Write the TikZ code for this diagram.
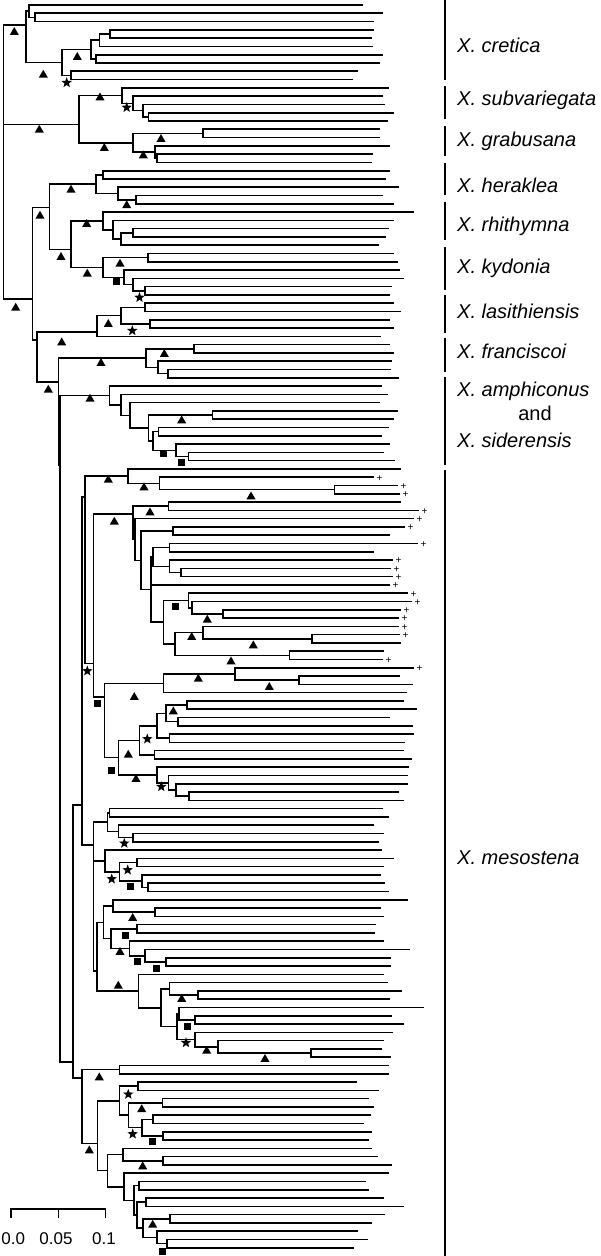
\documentclass[tikz,border=0pt]{standalone}
\usepackage{fontspec}
\setmainfont{Liberation Sans}
\usetikzlibrary{shapes.geometric, calc}

\tikzset{
  branch/.style={line width=1.6pt, line cap=rect},
  trimark/.style={regular polygon, regular polygon sides=3, fill, inner sep=0pt, minimum size=10.5pt},
  starmark/.style={star, star points=5, star point ratio=2.4, fill, inner sep=0pt, minimum size=11pt},
  sqmark/.style={rectangle, fill, inner sep=0pt, minimum size=7pt},
  plusmark/.style={inner sep=0pt, font=\fontsize{10}{10}\selectfont},
  taxon/.style={anchor=west, inner sep=0pt, font=\fontsize{20}{20}\selectfont\itshape},
  groupbar/.style={line width=2pt},
  scalelbl/.style={inner sep=0pt, font=\fontsize{17}{17}\selectfont}
}

\newcommand\linkup[2]{%
  \draw[branch] (#1 |- \cfirst) -- (#1 |- \clast);
  \foreach \kid in {#2} \draw[branch] (#1 |- \kid) -- (\kid);}
\newcommand\cl[3]{%
  \foreach \kid [count=\kidno] in {#3} {\ifnum\kidno=1 \xdef\cfirst{\kid}\fi \xdef\clast{\kid}}%
  \coordinate (tmp) at ($(\cfirst)!.5!(\clast)$);
  \coordinate (#1) at (#2,0 |- tmp);
  \linkup{#1}{#3}}
\newcommand\clat[4]{%
  \foreach \kid [count=\kidno] in {#4} {\ifnum\kidno=1 \xdef\cfirst{\kid}\fi \xdef\clast{\kid}}%
  \coordinate (#1) at (#2,#3);
  \linkup{#1}{#4}}

\begin{document}
\begin{tikzpicture}[x=1pt, y=-1pt]
  \useasboundingbox (0,0) rectangle (600,1256);
  \foreach \e [count=\i from 0] in {
    362,382,373,373,371,372,382,379,357,352,
    388,382,384,393,387,379,379,389,372,371,
    389,385,398,382,393,413,393,388,385,378,
    393,397,399,403,391,389,393,400,389,393,
    380,389,393,391,390,398,381,387,379,397,
    393,388,381,389,383,394,400,373,397,399,
    400,418,413,404,389,417,373,392,390,392,
    389,407,411,400,398,398,399,400,383,382,
    413,399,412,406,403,416,389,412,413,404,
    403,411,408,407,407,398,403,382,388,373,
    383,378,381,393,383,380,384,388,407,380,
    383,375,374,383,409,390,390,383,387,401,
    389,423,391,403,392,383,381,390,388,388,
    356,378,368,373,370,363,371,368,371,377,
    391,388,365,368,383,403,384,371,357,367,353}
    \coordinate (l\i) at (\e, {5+8.285*\i});

  \cl{a01}{35}{l1,l2}
  \cl{a0}{29}{l0,a01}
  \cl{f34}{110}{l3,l4}
  \cl{e5}{99.3}{f34,l5}
  \cl{g67}{95.7}{l6,l7}
  \cl{c3}{90.7}{e5,g67}
  \cl{d89}{71}{l8,l9}
  \cl{b3}{62}{c3,d89}
  \clat{cret}{25.7}{25}{a0,b3}

  \cl{j13}{148.3}{l13,l14}
  \cl{i12}{142.7}{l12,j13}
  \cl{h11}{133}{l11,i12}
  \cl{h10}{122}{l10,h11}
  \cl{k15}{203}{l15,l16}
  \cl{m18}{157}{l18,l19}
  \cl{m17}{155}{l17,m18}
  \cl{n15}{133}{k15,m17}
  \clat{p10}{79}{124.3}{h10,n15}

  \cl{q1}{103}{l20,l21}
  \cl{q3}{136}{l23,l24}
  \cl{q2}{118}{l22,q3}
  \cl{q0}{95.7}{q1,q2}
  \cl{s3}{133}{l27,l28}
  \cl{s2}{121}{s3,l29}
  \cl{s1}{113}{l26,s2}
  \cl{s0}{103}{l25,s1}
  \cl{u1}{148}{l30,l31}
  \cl{u4}{145}{l34,l35}
  \cl{u3}{133}{l33,u4}
  \cl{u2}{124}{l32,u3}
  \cl{u0}{103}{u1,u2}
  \clat{t0}{71}{249.3}{s0,u0}
  \clat{r0}{49.3}{207.3}{q0,t0}

  \cl{v1}{145}{l36,l37}
  \cl{v2}{150}{l38,l39}
  \cl{v0}{120.7}{v1,v2}
  \clat{w0}{96.7}{332}{v0,l40}
  \cl{z1}{194}{l41,l42}
  \cl{z3}{168}{l44,l45}
  \cl{z2}{158}{l43,z3}
  \cl{zf}{146}{z1,z2}
  \cl{am5}{188.3}{l54,l55}
  \cl{am4}{175.7}{l53,am5}
  \cl{am3}{158.3}{l51,l52}
  \cl{am2}{152.7}{am3,am4}
  \cl{am6}{212.3}{l49,l50}
  \cl{am1}{148.3}{am6,am2}
  \cl{am0}{130}{l48,am1}
  \cl{amb}{120.7}{l47,am0}
  \cl{am}{109.3}{l46,amb}

  \cl{me3}{334.3}{l58,l59}
  \cl{me2}{159.3}{l57,me3}
  \cl{me1}{127.7}{l56,me2}
  \cl{mf1}{168.3}{l60,l61}
  \cl{mf3}{172.7}{l63,l64}
  \cl{mf5}{169.3}{l65,l66}
  \cl{mf7}{181}{l68,l69}
  \cl{mf6}{169.3}{l67,mf7}
  \cl{mf4}{152.7}{mf5,mf6}
  \cl{mg3}{222.7}{l73,l74}
  \cl{mg2}{191.7}{l72,mg3}
  \cl{mg1}{188.3}{l71,mg2}
  \cl{mh3}{311.7}{l76,l77}
  \cl{mh2}{202.7}{l75,mh3}
  \cl{mh4}{289.3}{l78,l79}
  \cl{mh1}{175}{mh2,mh4}
  \cl{mgh}{163.3}{mg1,mh1}
  \cl{mfy}{150.7}{mf4,l70,mgh}
  \cl{mfx}{140.7}{mf3,mfy}
  \cl{mf2}{135}{l62,mfx}
  \clat{mf}{132.7}{514}{mf1,mf2}
  \cl{mi3}{299}{l81,l82}
  \cl{mi2}{235}{l80,mi3}
  \cl{mi1}{163.3}{mi2,l83}
  \cl{mj5}{186.7}{l84,l85}
  \cl{mj6}{177.7}{l86,l87}
  \cl{mj4}{166}{mj5,mj6}
  \cl{mj7}{169.3}{l88,l89}
  \cl{mj3}{156.7}{mj4,mj7}
  \cl{mj8}{154.3}{l90,l91}
  \cl{mj2}{139.3}{mj3,mj8}
  \cl{mk4}{189}{l95,l96}
  \cl{mk3}{175.7}{l94,mk4}
  \cl{mk2}{168.3}{l93,mk3}
  \cl{mk1}{156.7}{l92,mk2}
  \cl{mj1}{118.3}{mj2,mk1}
  \clat{mD}{104.3}{696.7}{mi1,mj1}
  \clat{mC}{93.3}{663.3}{mf,mD}
  \clat{mA}{85}{496.7}{me1,mC}

  \cl{mm1}{109.3}{l97,l98}
  \cl{mm3}{132.7}{l100,l101}
  \cl{mm2}{118.3}{l99,mm3}
  \cl{mm}{107.3}{mm1,mm2}
  \cl{mn3}{136.7}{l103,l104}
  \cl{mn5}{147.7}{l106,l107}
  \cl{mn4}{141.7}{l105,mn5}
  \cl{mn2}{119.3}{mn3,mn4}
  \cl{mn1}{105}{l102,mn2}
  \cl{mo2}{155}{l109,l110}
  \cl{mo1}{112.7}{l108,mo2}
  \cl{mp2}{136.7}{l111,l112}
  \cl{mp5}{165.7}{l115,l116}
  \cl{mp4}{145}{l114,mp5}
  \cl{mp3}{129.3}{l113,mp4}
  \cl{mp1}{111}{mp2,mp3}
  \cl{mq1}{103.3}{mo1,mp1}
  \cl{mr3}{197.7}{l119,l120}
  \cl{mr2}{169.3}{l118,mr3}
  \cl{ms2}{195}{l122,l123}
  \cl{ms1a}{179}{l121,ms2}
  \cl{ms6}{311}{l126,l127}
  \cl{ms5}{217.7}{l125,ms6}
  \cl{ms4}{195}{l124,ms5}
  \cl{ms1}{176.7}{ms1a,ms4}
  \cl{mr1}{161}{mr2,ms1}
  \cl{mr}{138.3}{l117,mr1}
  \clat{mt}{96.7}{970.7}{mq1,mr}
  \clat{mE}{93.3}{845}{mm,mn1,mt}
  \clat{mB1}{81.7}{805}{mA,mE}

  \cl{mu1}{119.3}{l128,l129}
  \cl{mx2}{137.7}{l130,l131}
  \cl{mx5}{162.3}{l132,l133}
  \cl{mx7}{152.7}{l134,l135}
  \cl{mx8}{162.7}{l136,l137}
  \cl{mx6}{141.7}{mx7,mx8}
  \cl{mx4}{128.3}{mx5,mx6}
  \cl{mx1}{119.3}{mx2,mx4}
  \cl{my2}{162.7}{l139,l140}
  \cl{my1}{122.7}{l138,my2}
  \cl{mz2}{139}{l142,l143}
  \cl{mz3}{145.7}{l144,l145}
  \cl{mz5}{170}{l146,l147}
  \cl{mz7}{166.7}{l149,l150}
  \cl{mz6}{156.7}{l148,mz7}
  \cl{mz4}{142.7}{mz5,mz6}
  \cl{mzb}{136.7}{mz3,mz4}
  \cl{mza}{134}{mz2,mzb}
  \cl{mz}{124}{l141,mza}
  \cl{mzz}{107.3}{my1,mz}
  \clat{mw}{97.3}{1143.3}{mx1,mzz}
  \clat{mv}{81.7}{1077.7}{mu1,mw}
  \clat{mes}{72.7}{1061.7}{mB1,mv}

  \clat{zz}{60}{465}{am,mes}
  \clat{z0}{58.3}{381.7}{zf,zz}
  \clat{y0}{36.7}{340}{w0,z0}
  \clat{x0}{32.3}{299}{r0,y0}
  \clat{root}{3.3}{25}{cret,p10,x0}

  \foreach \px/\py [count=\n] in {14.3/32.3, 43.3/75, 77.3/57.3, 100/97.7, 39.3/130,
      104.3/148.3, 161/139.3, 143.3/155.7, 71/190, 126.7/205.5, 40/216, 86.7/224.3,
      61/257.3, 87.3/274, 120/264, 15.7/308, 108.3/324.3, 61.7/342.7, 164.3/354.3,
      101/363.3, 48.3/390, 90/399, 181.7/420.7, 108.3/480, 144/487.7, 251/496.7,
      114.3/522, 150/512.7, 207.3/620, 191.7/637.3, 253.3/645.7, 231/661.7, 198.3/679,
      269.3/687.3, 134.3/697.3, 173.3/711.7, 128.3/755, 136/779.3, 132.7/918.3,
      120/952.3, 118.3/986, 181.7/999.3, 206.7/1051, 265/1059.3, 99.3/1077.7,
      141.7/1109.5, 89.3/1150.7, 142.7/1166.7, 152.7/1225}
    \node[trimark] (tri\n) at (\px,\py) {};
  \foreach \px/\py [count=\n] in {66.7/82.7, 126.7/107.5, 139.5/297.5, 132.3/330.7,
      87.3/671, 147.3/739, 161.3/786.7, 124.3/843.3, 127.7/870, 111.7/879, 186/1042.7,
      128.3/1094.3, 132.7/1134}
    \node[starmark] (st\n) at (\px,\py) {};
  \foreach \px/\py [count=\n] in {116/281, 163.3/453.3, 181.7/462.3, 175/606, 97.3/703.3,
      111/770, 130/886, 125/935, 137.3/961, 156/968.3, 187.3/1026, 152.7/1141.7,
      162.7/1251.7}
    \node[sqmark] (sq\n) at (\px,\py) {};
  \foreach \i in {57,58,59,61,62,63,65,67,68,69,70,71,72,73,74,75,76,79,80}
    \node[plusmark] (pl\i) at ([xshift=6.5pt, yshift=-1pt]l\i) {+};

  \foreach \ya/\yb [count=\n] in {0/80, 86/119, 126/156, 163/195, 202/240, 247/290,
      295/333, 338/372, 377/465, 470/1256}
    \draw[groupbar] (445,\ya) -- (445,\yb);
  \node[taxon] (tcret) at (457,45) {X. cretica};
  \node[taxon] (tsubv) at (457,100) {X. subvariegata};
  \node[taxon] (tgrab) at (457,141.7) {X. grabusana};
  \node[taxon] (thera) at (457,185) {X. heraklea};
  \node[taxon] (trhit) at (457,226.7) {X. rhithymna};
  \node[taxon] (tkydo) at (457,268.3) {X. kydonia};
  \node[taxon] (tlasi) at (457,311.7) {X. lasithiensis};
  \node[taxon] (tfran) at (457,351.7) {X. franciscoi};
  \node[taxon] (tamph) at (457,391.7) {X. amphiconus};
  \node[taxon, anchor=center] (tand) at (535,413.3) {\upshape and};
  \node[taxon] (tside) at (457,440) {X. siderensis};
  \node[taxon] (tmeso) at (457,858) {X. mesostena};

  \draw[branch] (11,1209) -- (105.3,1209);
  \foreach \sx/\lx/\sl [count=\n] in {11/13.3/0.0, 58.3/56/0.05, 105.3/104/0.1} {
    \draw[branch] (\sx,1209) -- (\sx,1216.7);
    \node[scalelbl] (sc\n) at (\lx,1238.7) {\sl};
  }
\end{tikzpicture}
\end{document}
